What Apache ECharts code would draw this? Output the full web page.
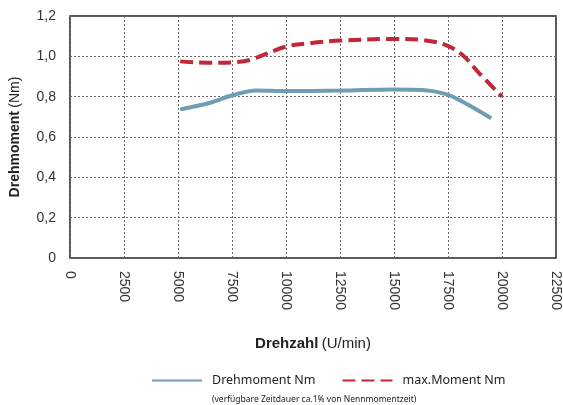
<!DOCTYPE html>
<html>
<head>
<meta charset="utf-8">
<script src="https://cdn.jsdelivr.net/npm/echarts@6/dist/echarts.min.js"></script>
<style>
  html, body { margin: 0; padding: 0; background: #fff; }
  #chart { width: 563px; height: 405px; }
</style>
</head>
<body>
<div id="chart"></div>
<script>
// Drehzahl (U/min) / Moment (Nm)
var drehmomentData = [
  [5100, 0.737], [6500, 0.77], [7550, 0.808], [8630, 0.831], [10000, 0.828],
  [12550, 0.83], [14940, 0.836], [16330, 0.833], [17410, 0.813],
  [18180, 0.775], [19500, 0.693]
];
var maxMomentData = [
  [5100, 0.975], [6600, 0.968], [7530, 0.97], [8320, 0.982],
  [10000, 1.048], [11090, 1.065], [12550, 1.078], [14940, 1.086],
  [16320, 1.081], [17400, 1.056], [18170, 1.007], [18950, 0.916],
  [20000, 0.80]
];
var seriesNames = ['Drehmoment Nm', 'max.Moment Nm'];
var footnote = '(verfügbare Zeitdauer ca.1% von Nennmomentzeit)';

var dom = document.getElementById('chart');
var myChart = echarts.init(dom, null, { renderer: 'canvas' });

var gridLine = { show: true, lineStyle: { color: '#666', type: [2, 2], width: 1 } };

var option = {
  animation: false,
  grid: {
    left: 70, right: 7, top: 16, bottom: 147,
    show: true, borderColor: '#222', borderWidth: 1.5
  },
  xAxis: {
    type: 'value',
    min: 0, max: 22500, interval: 2500,
    axisLine: { show: false },
    axisTick: { show: false },
    splitLine: gridLine,
    axisLabel: {
      rotate: -90, margin: 13,
      fontFamily: 'Liberation Sans, Arial', fontSize: 14, color: '#333',
      formatter: function (v) { return String(v); }
    },
    name: '{b|Drehzahl} {n|(U/min)}',
    nameLocation: 'middle',
    nameGap: 78,
    nameTextStyle: {
      rich: {
        b: { fontFamily: 'Liberation Sans, Arial', fontSize: 15, fontWeight: 'bold', color: '#222' },
        n: { fontFamily: 'Liberation Sans, Arial', fontSize: 15, color: '#222' }
      }
    }
  },
  yAxis: {
    type: 'value',
    min: 0, max: 1.2, interval: 0.2,
    axisLine: { show: false },
    axisTick: { show: false },
    splitLine: gridLine,
    axisLabel: {
      margin: 14,
      fontFamily: 'Liberation Sans, Arial', fontSize: 14, color: '#333',
      formatter: function (v) {
        if (v === 0) return '0';
        return v.toFixed(1).replace('.', ',');
      }
    },
    name: '{b|Drehmoment} {n|(Nm)}',
    nameLocation: 'middle',
    nameGap: 48,
    nameTextStyle: {
      rich: {
        b: { fontFamily: 'Liberation Sans, Arial', fontSize: 14, fontWeight: 'bold', color: '#222' },
        n: { fontFamily: 'Liberation Sans, Arial', fontSize: 14, color: '#222' }
      }
    }
  },
  legend: {
    bottom: 13, left: 146,
    itemWidth: 50, itemHeight: 4, itemGap: 26,
    itemStyle: { opacity: 0 },
    textStyle: { fontFamily: 'Noto Sans, Open Sans', fontSize: 12.5, color: '#222', padding: [0, 0, 0, 5] },
    data: seriesNames
  },
  graphic: [{
    type: 'text', left: 212, top: 395,
    style: { text: footnote, fontFamily: 'Noto Sans, Open Sans', fontSize: 8.5, fill: '#222' }
  }],
  series: [
    {
      name: seriesNames[0],
      type: 'line',
      smooth: 0.35,
      symbol: 'none',
      data: drehmomentData,
      itemStyle: { color: '#6f9db2' },
      lineStyle: { color: '#6f9db2', width: 4 }
    },
    {
      name: seriesNames[1],
      type: 'line',
      smooth: 0.35,
      symbol: 'none',
      data: maxMomentData,
      itemStyle: { color: '#c02838' },
      lineStyle: { color: '#c02838', width: 4, type: [13, 6] }
    }
  ]
};

myChart.setOption(option);
window.addEventListener('resize', myChart.resize);
</script>
</body>
</html>
